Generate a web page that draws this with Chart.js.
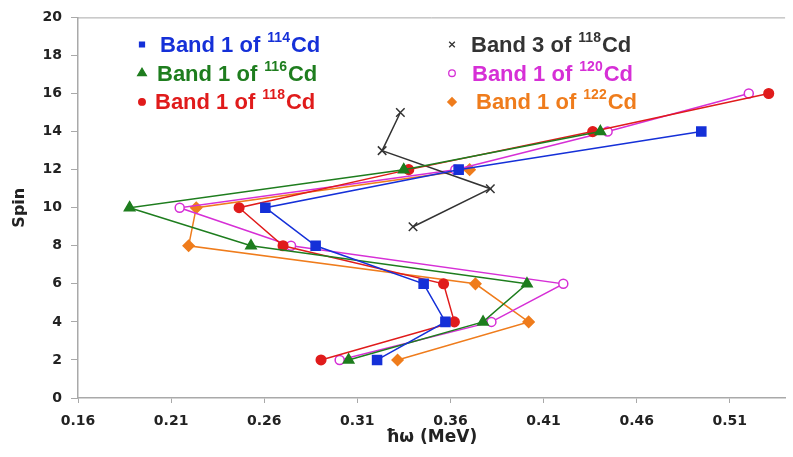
<!DOCTYPE html>
<html lang="en">
<head>
  <meta charset="UTF-8">
  <title>Spin vs rotational frequency, Cd bands</title>
  <script src="https://cdn.jsdelivr.net/npm/chart.js"></script>
  <style>
    body {
      margin: 0;
      background: #fff;
    }
    #wrap {
      position: relative;
      width: 793px;
      height: 457px;
    }
  </style>
</head>
<body>
  <div id="wrap"><canvas id="spinChart"></canvas></div>

  <script>
    // spin values of the levels
    const spinBand1 = [2, 4, 6, 8, 10, 12, 14, 16];
    const spinBand3 = [15, 13, 11, 9];

    // hbar*omega (MeV)
    const hw114 = [0.3206, 0.3573, 0.3456, 0.2876, 0.2606, 0.3644, 0.4947];
    const hw116 = [0.3053, 0.3775, 0.4011, 0.2529, 0.1877, 0.3349, 0.4405];
    const hw118 = [0.2905, 0.3621, 0.3563, 0.2701, 0.2465, 0.3376, 0.4364, 0.5309];
    const hw118b3 = [0.3331, 0.3233, 0.3814, 0.3399];
    const hw120 = [0.3005, 0.382, 0.4206, 0.2744, 0.2146, 0.3626, 0.4444, 0.5202];
    const hw122 = [0.3316, 0.402, 0.3734, 0.2194, 0.2235, 0.3703];

    const xTicks = [0.16, 0.21, 0.26, 0.31, 0.36, 0.41, 0.46, 0.51];
    const yTicks = [0, 2, 4, 6, 8, 10, 12, 14, 16, 18, 20];

    const bandNames = [1, 1, 1, 3, 1, 1];
    const isotopes = ['114', '116', '118', '118', '120', '122'];

    const axisGrey = '#a9a9a9';
    const textDark = '#222';

    function pts(xs, ys) {
      return xs.map((x, i) => ({ x: x, y: ys[i] }));
    }

    function series(i, xs, ys, color, style, radius, fill) {
      return {
        label: `Band ${bandNames[i]} of ${isotopes[i]}Cd`,
        data: pts(xs, ys),
        borderColor: color,
        backgroundColor: fill || color,
        pointBorderColor: color,
        pointBackgroundColor: fill || color,
        pointStyle: style,
        pointRadius: radius,
        pointBorderWidth: 1.5,
        borderWidth: 1.5,
        tension: 0,
        showLine: true
      };
    }

    const datasets = [
      series(0, hw114, spinBand1, '#1530d8', 'rect', 6.4),
      series(1, hw116, spinBand1, '#1e7d1e', 'triangle', 6),
      series(2, hw118, spinBand1, '#e01b1b', 'circle', 4.8),
      series(3, hw118b3, spinBand3, '#333333', 'crossRot', 6),
      series(4, hw120, spinBand1, '#d62fd6', 'circle', 4.5, '#ffffff'),
      series(5, hw122, spinBand1, '#ef7c1c', 'rectRot', 5.5)
    ];

    // legend in two columns with superscript mass numbers
    const bandLegend = {
      id: 'bandLegend',
      afterDraw(chart) {
        const ctx = chart.ctx;
        const a = chart.chartArea;
        ctx.save();
        // frame line at the top of the plot
        ctx.strokeStyle = axisGrey;
        ctx.lineWidth = 1;
        ctx.beginPath();
        ctx.moveTo(a.left, a.top + 0.5);
        ctx.lineTo(a.right, a.top + 0.5);
        ctx.stroke();

        const legendMarks = [3.5, 5, 3.3, 4, 3.3, 4.2];
        const textX = [160, 157, 155, 471, 472, 476];
        chart.data.datasets.forEach((ds, i) => {
          const col = i < 3 ? 0 : 1;
          const row = i % 3;
          const mx = col ? 452 : 142;
          const cy = 44.5 + row * 28.7;

          ctx.fillStyle = ds.pointBackgroundColor;
          ctx.strokeStyle = ds.pointBorderColor;
          ctx.lineWidth = 1.3;
          Chart.helpers.drawPoint(ctx, {
            pointStyle: ds.pointStyle,
            radius: legendMarks[i],
            rotation: 0,
            borderWidth: 1.3
          }, mx, cy);

          const base = cy + 7.5;
          ctx.fillStyle = ds.borderColor;
          ctx.textBaseline = 'alphabetic';
          ctx.textAlign = 'left';
          const pre = `Band ${bandNames[i]} of `;
          ctx.font = 'bold 22px "Liberation Sans", Arial, sans-serif';
          ctx.fillText(pre, textX[i], base);
          let x = textX[i] + ctx.measureText(pre).width + 1;
          ctx.font = 'bold 14px "Liberation Sans", Arial, sans-serif';
          ctx.fillText(isotopes[i], x, base - 10);
          x += ctx.measureText(isotopes[i]).width + 1;
          ctx.font = 'bold 22px "Liberation Sans", Arial, sans-serif';
          ctx.fillText('Cd', x, base);
        });
        ctx.restore();
      }
    };

    const ctx = document.getElementById('spinChart').getContext('2d');

    const spinChart = new Chart(ctx, {
      type: 'scatter',
      data: { datasets: datasets },
      options: {
        animation: false,
        responsive: true,
        maintainAspectRatio: false,
        layout: { padding: { top: 15, right: 0, left: 0, bottom: 0 } },
        plugins: {
          legend: { display: false },
          tooltip: { enabled: false }
        },
        scales: {
          x: {
            type: 'linear',
            min: 0.16,
            max: 0.5397,
            afterBuildTicks: s => { s.ticks = xTicks.map(v => ({ value: v })); },
            afterFit: s => { s.height = 59; },
            grid: { display: true, drawOnChartArea: false, drawTicks: true, tickLength: 5, color: axisGrey },
            border: { display: true, color: axisGrey, width: 1.5 },
            ticks: {
              padding: 10,
              color: textDark,
              font: { family: 'DejaVu Sans', size: 14, weight: 'bold' },
              callback: v => v.toFixed(2)
            },
            title: {
              display: true,
              text: 'ħω (MeV)',
              color: textDark,
              padding: { top: 0, bottom: 9 },
              font: { family: 'DejaVu Sans', size: 17, weight: 'bold' }
            }
          },
          y: {
            type: 'linear',
            min: 0,
            max: 20,
            afterBuildTicks: s => { s.ticks = yTicks.map(v => ({ value: v })); },
            afterFit: s => { s.width = 78; },
            grid: { display: true, drawOnChartArea: false, drawTicks: true, tickLength: 7, color: axisGrey },
            border: { display: true, color: axisGrey, width: 1.5 },
            ticks: {
              padding: 9,
              color: textDark,
              font: { family: 'DejaVu Sans', size: 14, weight: 'bold' }
            },
            title: {
              display: true,
              text: 'Spin',
              color: textDark,
              padding: { top: 10, bottom: 0 },
              font: { family: 'DejaVu Sans', size: 16, weight: 'bold' }
            }
          }
        }
      },
      plugins: [bandLegend]
    });
  </script>
</body>
</html>
